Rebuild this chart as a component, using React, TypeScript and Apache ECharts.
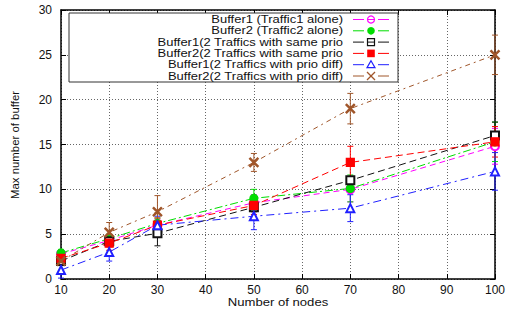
import React, { useEffect, useRef } from "react";
import * as echarts from "echarts";

const nodes = [10, 20, 30, 50, 70, 100];
const xTicks = [10, 20, 30, 40, 50, 60, 70, 80, 90, 100];
const yTicks = [0, 5, 10, 15, 20, 25, 30];

const seriesNames = [
  "Buffer1 (Traffic1 alone)",
  "Buffer2 (Traffic2 alone)",
  "Buffer1(2 Traffics with same prio",
  "Buffer2(2 Traffics with same prio",
  "Buffer1(2 Traffics with prio diff)",
  "Buffer2(2 Traffics with prio diff)",
];

const buf1Alone = [2.8, 4.3, 6.0, 8.5, 10.0, 14.8];
const buf2Alone = [2.9, 4.5, 6.2, 9.0, 10.1, 15.3];
const buf1Same = [2.0, 4.2, 5.1, 8.0, 11.0, 16.0];
const buf2Same = [2.3, 4.0, 6.0, 8.2, 13.0, 15.3];
const buf1Diff = [1.0, 3.0, 6.0, 7.0, 7.9, 12.0];
const buf2Diff = [2.0, 5.2, 7.5, 13.0, 19.0, 25.0];

const buf1AloneErr = [0.4, 0.5, 0.6, 0.9, 1.4, 2.0];
const buf2AloneErr = [0.4, 0.5, 0.6, 1.0, 1.5, 2.2];
const buf1SameErr = [0.5, 0.6, 1.4, 0.5, 0.3, 1.5];
const buf2SameErr = [0.7, 0.8, 0.8, 1.0, 1.8, 1.7];
const buf1DiffErr = [0.9, 1.0, 1.0, 1.5, 1.5, 2.1];
const buf2DiffErr = [0.5, 1.1, 1.8, 1.0, 1.7, 2.2];

const values = [buf1Alone, buf2Alone, buf1Same, buf2Same, buf1Diff, buf2Diff];
const errors = [buf1AloneErr, buf2AloneErr, buf1SameErr, buf2SameErr, buf1DiffErr, buf2DiffErr];

const colors = ["#ff00ff", "#00dd00", "#111111", "#ff0000", "#2020ff", "#a0562a"];
const dashes: any[] = [[6, 4], [8, 3, 2, 3], [7, 4], [7, 4], [8, 4, 2, 4], [5, 4, 2, 4]];
const crossPath =
  "path://M0,1 L1,0 L5,4 L9,0 L10,1 L6,5 L10,9 L9,10 L5,6 L1,10 L0,9 L4,5 Z";
const symbols = ["emptyCircle", "circle", "emptyRect", "rect", "emptyTriangle", crossPath];
const symbolSizes = [8, 8, 8, 8, 8, 9];

const FONT = "Liberation Sans, Arial, Helvetica, sans-serif";

function legendRow(i: number, cy: number): any[] {
  const c = colors[i];
  const mx = 371;
  const els: any[] = [
    {
      type: "text",
      x: 343,
      y: cy,
      scaleX: 1.18,
      z: 5,
      style: {
        text: seriesNames[i],
        fontFamily: FONT,
        fontSize: 11,
        lineHeight: 11,
        fill: "#111",
        align: "right",
        verticalAlign: "middle",
      },
    },
    { type: "line", z: 5, shape: { x1: 353, y1: cy, x2: 364, y2: cy }, style: { stroke: c, lineWidth: 1 } },
    { type: "line", z: 5, shape: { x1: 378, y1: cy, x2: 389, y2: cy }, style: { stroke: c, lineWidth: 1 } },
  ];
  if (i === 0) {
    els.push({ type: "circle", z: 5, shape: { cx: mx, cy, r: 3.5 }, style: { fill: "none", stroke: c, lineWidth: 1.2 } });
    els.push({ type: "line", z: 5, shape: { x1: mx - 3.5, y1: cy, x2: mx + 3.5, y2: cy }, style: { stroke: c, lineWidth: 1 } });
  } else if (i === 1) {
    els.push({ type: "circle", z: 5, shape: { cx: mx, cy, r: 3.8 }, style: { fill: c } });
  } else if (i === 2) {
    els.push({ type: "rect", z: 5, shape: { x: mx - 3.5, y: cy - 3.5, width: 7, height: 7 }, style: { fill: "none", stroke: c, lineWidth: 1.2 } });
    els.push({ type: "line", z: 5, shape: { x1: mx - 3.5, y1: cy, x2: mx + 3.5, y2: cy }, style: { stroke: c, lineWidth: 1 } });
  } else if (i === 3) {
    els.push({ type: "rect", z: 5, shape: { x: mx - 3.8, y: cy - 3.8, width: 7.6, height: 7.6 }, style: { fill: c } });
  } else if (i === 4) {
    els.push({
      type: "polygon",
      z: 5,
      shape: { points: [[mx, cy - 4], [mx + 4, cy + 3], [mx - 4, cy + 3]] },
      style: { fill: "none", stroke: c, lineWidth: 1.2 },
    });
  } else {
    els.push({ type: "line", z: 5, shape: { x1: mx - 4, y1: cy - 4, x2: mx + 4, y2: cy + 4 }, style: { stroke: c, lineWidth: 1.2 } });
    els.push({ type: "line", z: 5, shape: { x1: mx - 4, y1: cy + 4, x2: mx + 4, y2: cy - 4 }, style: { stroke: c, lineWidth: 1.2 } });
  }
  return els;
}

export default function App() {
  const ref = useRef<HTMLDivElement>(null);

  useEffect(() => {
    if (!ref.current) return;
    const chart = echarts.init(ref.current, null, { renderer: "svg" });

    const lineSeries = seriesNames.map((name, i) => ({
      name,
      type: "line",
      data: nodes.map((n, j) => [n, values[i][j]]),
      symbol: symbols[i],
      symbolSize: symbolSizes[i],
      showSymbol: true,
      z: 3,
      lineStyle: { color: colors[i], width: 1, type: dashes[i] },
      itemStyle: { color: colors[i], borderColor: colors[i], borderWidth: 1.2 },
    }));

    const errSeries = seriesNames.map((name, i) => ({
      name: "err" + i,
      type: "custom",
      z: 2,
      data: nodes.map((n, j) => [n, values[i][j] - errors[i][j], values[i][j] + errors[i][j]]),
      encode: { x: 0, y: [1, 2] },
      renderItem: (params: any, api: any) => {
        const x = api.value(0);
        const lo = api.coord([x, Math.max(0, api.value(1))]);
        const hi = api.coord([x, api.value(2)]);
        const c = colors[i];
        const w = 3;
        return {
          type: "group",
          children: [
            { type: "line", shape: { x1: lo[0], y1: lo[1], x2: hi[0], y2: hi[1] }, style: { stroke: c, lineWidth: 1 } },
            { type: "line", shape: { x1: lo[0] - w, y1: lo[1], x2: lo[0] + w, y2: lo[1] }, style: { stroke: c, lineWidth: 1 } },
            { type: "line", shape: { x1: hi[0] - w, y1: hi[1], x2: hi[0] + w, y2: hi[1] }, style: { stroke: c, lineWidth: 1 } },
          ],
        };
      },
    }));

    const rowCenters = [19.5, 30.8, 42.1, 53.4, 64.7, 76.0];
    const legendEls: any[] = [];
    seriesNames.forEach((_, i) => legendEls.push(...legendRow(i, rowCenters[i])));

    const option: any = {
      animation: false,
      backgroundColor: "#fff",
      textStyle: { fontFamily: FONT },
      grid: { left: 61, right: 12, top: 10, bottom: 37, show: false },
      graphic: {
        elements: [
          {
            type: "rect",
            z: 4,
            shape: { x: 69, y: 13, width: 329, height: 69 },
            style: { fill: "#fff", stroke: "#333", lineWidth: 1 },
          },
          ...legendEls,
          {
            type: "text",
            x: 278,
            y: 302,
            scaleX: 1.15,
            style: {
              text: "Number of nodes",
              fontFamily: FONT,
              fontSize: 11.4,
              fill: "#111",
              align: "center",
              verticalAlign: "middle",
            },
          },
          {
            type: "text",
            x: 15,
            y: 145,
            rotation: Math.PI / 2,
            style: {
              text: "Max number of buffer",
              fontFamily: FONT,
              fontSize: 11.4,
              fill: "#111",
              align: "center",
              verticalAlign: "middle",
            },
          },
        ],
      },
      xAxis: [
        {
          type: "value",
          min: 10,
          max: 100,
          interval: 10,
          position: "bottom",
          axisLine: { show: true, onZero: false, lineStyle: { color: "#000", width: 1.5 } },
          axisTick: { show: true, inside: true, length: 5, lineStyle: { color: "#000" } },
          axisLabel: { color: "#111", fontSize: 12, fontFamily: FONT, margin: 5 },
          splitLine: { show: true, lineStyle: { color: "#666", width: 1, type: [1, 2] } },
        },
        {
          type: "value",
          min: 10,
          max: 100,
          interval: 10,
          position: "top",
          axisLine: { show: true, onZero: false, lineStyle: { color: "#000", width: 1.5 } },
          axisTick: { show: true, inside: true, length: 5, lineStyle: { color: "#000" } },
          axisLabel: { show: false },
          splitLine: { show: false },
        },
      ],
      yAxis: [
        {
          type: "value",
          min: 0,
          max: 30,
          interval: 5,
          position: "left",
          axisLine: { show: true, onZero: false, lineStyle: { color: "#000", width: 1.5 } },
          axisTick: { show: true, inside: true, length: 5, lineStyle: { color: "#000" } },
          axisLabel: { color: "#111", fontSize: 12, fontFamily: FONT, margin: 9 },
          splitLine: { show: true, lineStyle: { color: "#666", width: 1, type: [1, 2] } },
        },
        {
          type: "value",
          min: 0,
          max: 30,
          interval: 5,
          position: "right",
          axisLine: { show: true, onZero: false, lineStyle: { color: "#000", width: 1.5 } },
          axisTick: { show: true, inside: true, length: 5, lineStyle: { color: "#000" } },
          axisLabel: { show: false },
          splitLine: { show: false },
        },
      ],
      series: [...errSeries, ...lineSeries],
    };

    chart.setOption(option);
    return () => chart.dispose();
  }, []);

  return <div ref={ref} style={{ width: 508, height: 316, position: "absolute", left: 0, top: 0 }} />;
}
